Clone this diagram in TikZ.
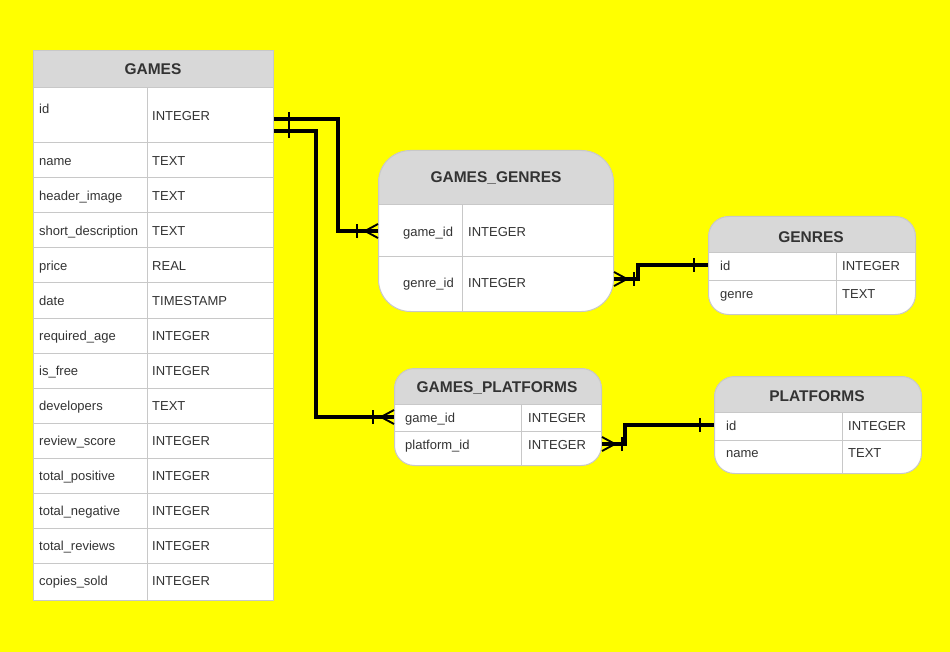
\documentclass[tikz,border=0pt]{standalone}
\usepackage{fontspec}
\setmainfont{Liberation Sans}
\usetikzlibrary{positioning,calc,decorations.markings}
\definecolor{bgyellow}{HTML}{FFFF00}
\definecolor{hdrgray}{HTML}{D8D8D8}
\definecolor{linegray}{HTML}{C8C8C8}
\definecolor{txtgray}{HTML}{333333}

\tikzset{
  tbl/.style n args={4}{draw=linegray, fill=white, line width=1pt, anchor=north west, inner sep=0pt,
    minimum width=#1, minimum height=#2, rounded corners=#3,
    path picture={\fill[hdrgray, sharp corners] (path picture bounding box.north west) rectangle ([yshift=-#4]path picture bounding box.north east);}},
  sep/.style={draw=linegray, line width=1pt},
  hdr/.style={font=\bfseries\fontsize{15.5}{18}\selectfont, text=txtgray, inner sep=0pt},
  fld/.style={font=\fontsize{13}{15}\selectfont, text=txtgray, anchor=west, inner sep=0pt, text height=12pt, text depth=1.5pt},
  rel/.style={draw=black, line width=3.2pt},
  mk/.style={draw=black, line width=1.9pt},
  one from/.style={postaction={decorate, decoration={markings,
      mark=at position #1 with {\draw[mk] (0,-7pt) -- (0,7pt);}}}},
  one to/.style={postaction={decorate, decoration={markings,
      mark=at position -#1 with {\draw[mk] (0,-7pt) -- (0,7pt);}}}},
  many from/.style={postaction={decorate, decoration={markings,
      mark=at position 13pt with {\draw[mk] (-13pt,7pt) -- (0,0) (-13pt,-7pt) -- (0,0);},
      mark=at position 20pt with {\draw[mk] (0,-7pt) -- (0,7pt);}}}},
  many to/.style={postaction={decorate, decoration={markings,
      mark=at position -21pt with {\draw[mk] (0,-7pt) -- (0,7pt);},
      mark=at position -13pt with {\draw[mk] (13pt,7pt) -- (0,0) (13pt,-7pt) -- (0,0);}}}}
}

\begin{document}
\begin{tikzpicture}[x=1pt,y=-1pt]
	\fill[bgyellow] (0,0) rectangle (950,652);

	% games
	\node[tbl={240}{550}{0pt}{38}] (games) at (33,50) {};
	\node[hdr] (games-h) at (153,69) {GAMES};
	\draw[sep] (33,88) -- (273,88);
	\draw[sep] (147,88) -- (147,600);
	\node[fld] (games-n0) at (39,108) {id};
	\node[fld] (games-t0) at (152,115) {INTEGER};
	\foreach \n/\t [count=\i] in {name/TEXT, header\_image/TEXT, short\_description/TEXT, price/REAL,
		date/TIMESTAMP, required\_age/INTEGER, is\_free/INTEGER, developers/TEXT, review\_score/INTEGER,
		total\_positive/INTEGER, total\_negative/INTEGER, total\_reviews/INTEGER, copies\_sold/INTEGER}{
		\draw[sep] (33,{108+35*\i}) -- (273,{108+35*\i});
		\node[fld] (games-n\i) at (39,{125.5+35*\i}) {\n};
		\node[fld] (games-t\i) at (152,{125.5+35*\i}) {\t};
	}

	% games_genres
	\node[tbl={235}{161}{32pt}{55}] (gg) at (378,150) {};
	\node[hdr] (gg-h) at (496,178) {GAMES\_GENRES};
	\draw[sep] (378,205) -- (613,205);
	\draw[sep] (378,257) -- (613,257);
	\draw[sep] (462,205) -- (462,311);
	\node[fld] (gg-n1) at (403,231) {game\_id};
	\node[fld] (gg-t1) at (468,231) {INTEGER};
	\node[fld] (gg-n2) at (403,282) {genre\_id};
	\node[fld] (gg-t2) at (468,282) {INTEGER};

	% genres
	\node[tbl={207}{98}{20pt}{37}] (genres) at (708,216) {};
	\node[hdr] (genres-h) at (811,237) {GENRES};
	\draw[sep] (708,253) -- (915,253);
	\draw[sep] (708,281) -- (915,281);
	\draw[sep] (836,253) -- (836,314);
	\node[fld] (genres-n1) at (720,265) {id};
	\node[fld] (genres-t1) at (842,265) {INTEGER};
	\node[fld] (genres-n2) at (720,293) {genre};
	\node[fld] (genres-t2) at (842,293) {TEXT};

	% games_platforms
	\node[tbl={207}{97}{20pt}{36}] (gp) at (394,368) {};
	\node[hdr] (gp-h) at (497,388) {GAMES\_PLATFORMS};
	\draw[sep] (394,404) -- (601,404);
	\draw[sep] (394,431) -- (601,431);
	\draw[sep] (521,404) -- (521,465);
	\node[fld] (gp-n1) at (405,417) {game\_id};
	\node[fld] (gp-t1) at (528,417) {INTEGER};
	\node[fld] (gp-n2) at (405,444) {platform\_id};
	\node[fld] (gp-t2) at (528,444) {INTEGER};

	% platforms
	\node[tbl={207}{97}{20pt}{36}] (plat) at (714,376) {};
	\node[hdr] (plat-h) at (817,396) {PLATFORMS};
	\draw[sep] (714,412) -- (921,412);
	\draw[sep] (714,440) -- (921,440);
	\draw[sep] (842,412) -- (842,473);
	\node[fld] (plat-n1) at (726,425) {id};
	\node[fld] (plat-t1) at (848,425) {INTEGER};
	\node[fld] (plat-n2) at (726,452) {name};
	\node[fld] (plat-t2) at (848,452) {TEXT};

	% relations
	\draw[rel, one from=15pt, many to] ([yshift=-4pt]games.east |- games-t0) -- ++(64,0) |- (gg.west |- gg-n1);
	\draw[rel, one from=15pt, many to] ([yshift=-16pt]games.east |- games-t0) -- ++(42,0) |- (gp.west |- gp-n1);
	\draw[rel, many from, one to=14pt] ([yshift=3pt]gg.east |- gg-n2) -- ++(24,0) |- (genres.west |- genres-n1);
	\draw[rel, many from, one to=14pt] (gp.east |- gp-n2) -- ++(23,0) |- (plat.west |- plat-n1);
\end{tikzpicture}
\end{document}
